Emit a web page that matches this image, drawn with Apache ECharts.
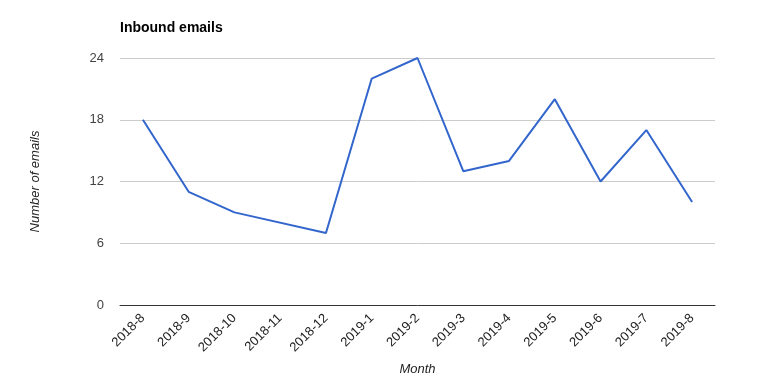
<!DOCTYPE html>
<html><head><meta charset="utf-8">
<script src="https://cdn.jsdelivr.net/npm/echarts@6/dist/echarts.min.js"></script>
<style>html,body{margin:0;padding:0;background:#fff}#c{width:784px;height:389px}</style>
</head><body><div id="c"></div>
<script>
const categories = ["2018-8","2018-9","2018-10","2018-11","2018-12","2019-1","2019-2","2019-3","2019-4","2019-5","2019-6","2019-7","2019-8"];
const emails = [18, 11, 9, null, 7, 22, 24, 13, 14, 20, 12, 17, 10];
const yTicks = [0, 6, 12, 18, 24];
const titleText = "Inbound emails";
const xName = "Month";
const yName = "Number of emails";

const chart = echarts.init(document.getElementById('c'), null, {renderer:'canvas'});
const font = "Liberation Sans, Arial, sans-serif";
chart.setOption({
  animation: false,
  textStyle: {fontFamily: font},
  title: {text: titleText, left: 120, top: 21, padding: 0, textStyle: {fontFamily: font, fontSize: 14, fontWeight: 'bold', color: '#000'}},
  grid: {left: 120, right: 69, top: 58, bottom: 84, containLabel: false},
  xAxis: {
    type: 'category', data: categories, boundaryGap: true,
    name: xName, nameLocation: 'middle', nameGap: 58,
    nameTextStyle: {fontFamily: font, fontSize: 13, fontStyle: 'italic', color: '#222'},
    axisLine: {lineStyle: {color: '#333', width: 1}},
    axisTick: {show: false},
    axisLabel: {rotate: 45, fontFamily: font, fontSize: 13, color: '#222', interval: 0, margin: 11}
  },
  yAxis: {
    type: 'value', min: yTicks[0], max: yTicks[yTicks.length-1], interval: 6,
    name: yName, nameLocation: 'middle', nameGap: 78,
    nameTextStyle: {fontFamily: font, fontSize: 13, fontStyle: 'italic', color: '#222'},
    axisLine: {show: false}, axisTick: {show: false},
    axisLabel: {fontFamily: font, fontSize: 13, color: '#444', margin: 16},
    splitLine: {lineStyle: {color: '#ccc', width: 1}}
  },
  series: [{
    type: 'line', data: emails, connectNulls: true,
    symbol: 'none', lineStyle: {color: '#3366cc', width: 2}, itemStyle: {color: '#3366cc'}
  }]
});
</script></body></html>
